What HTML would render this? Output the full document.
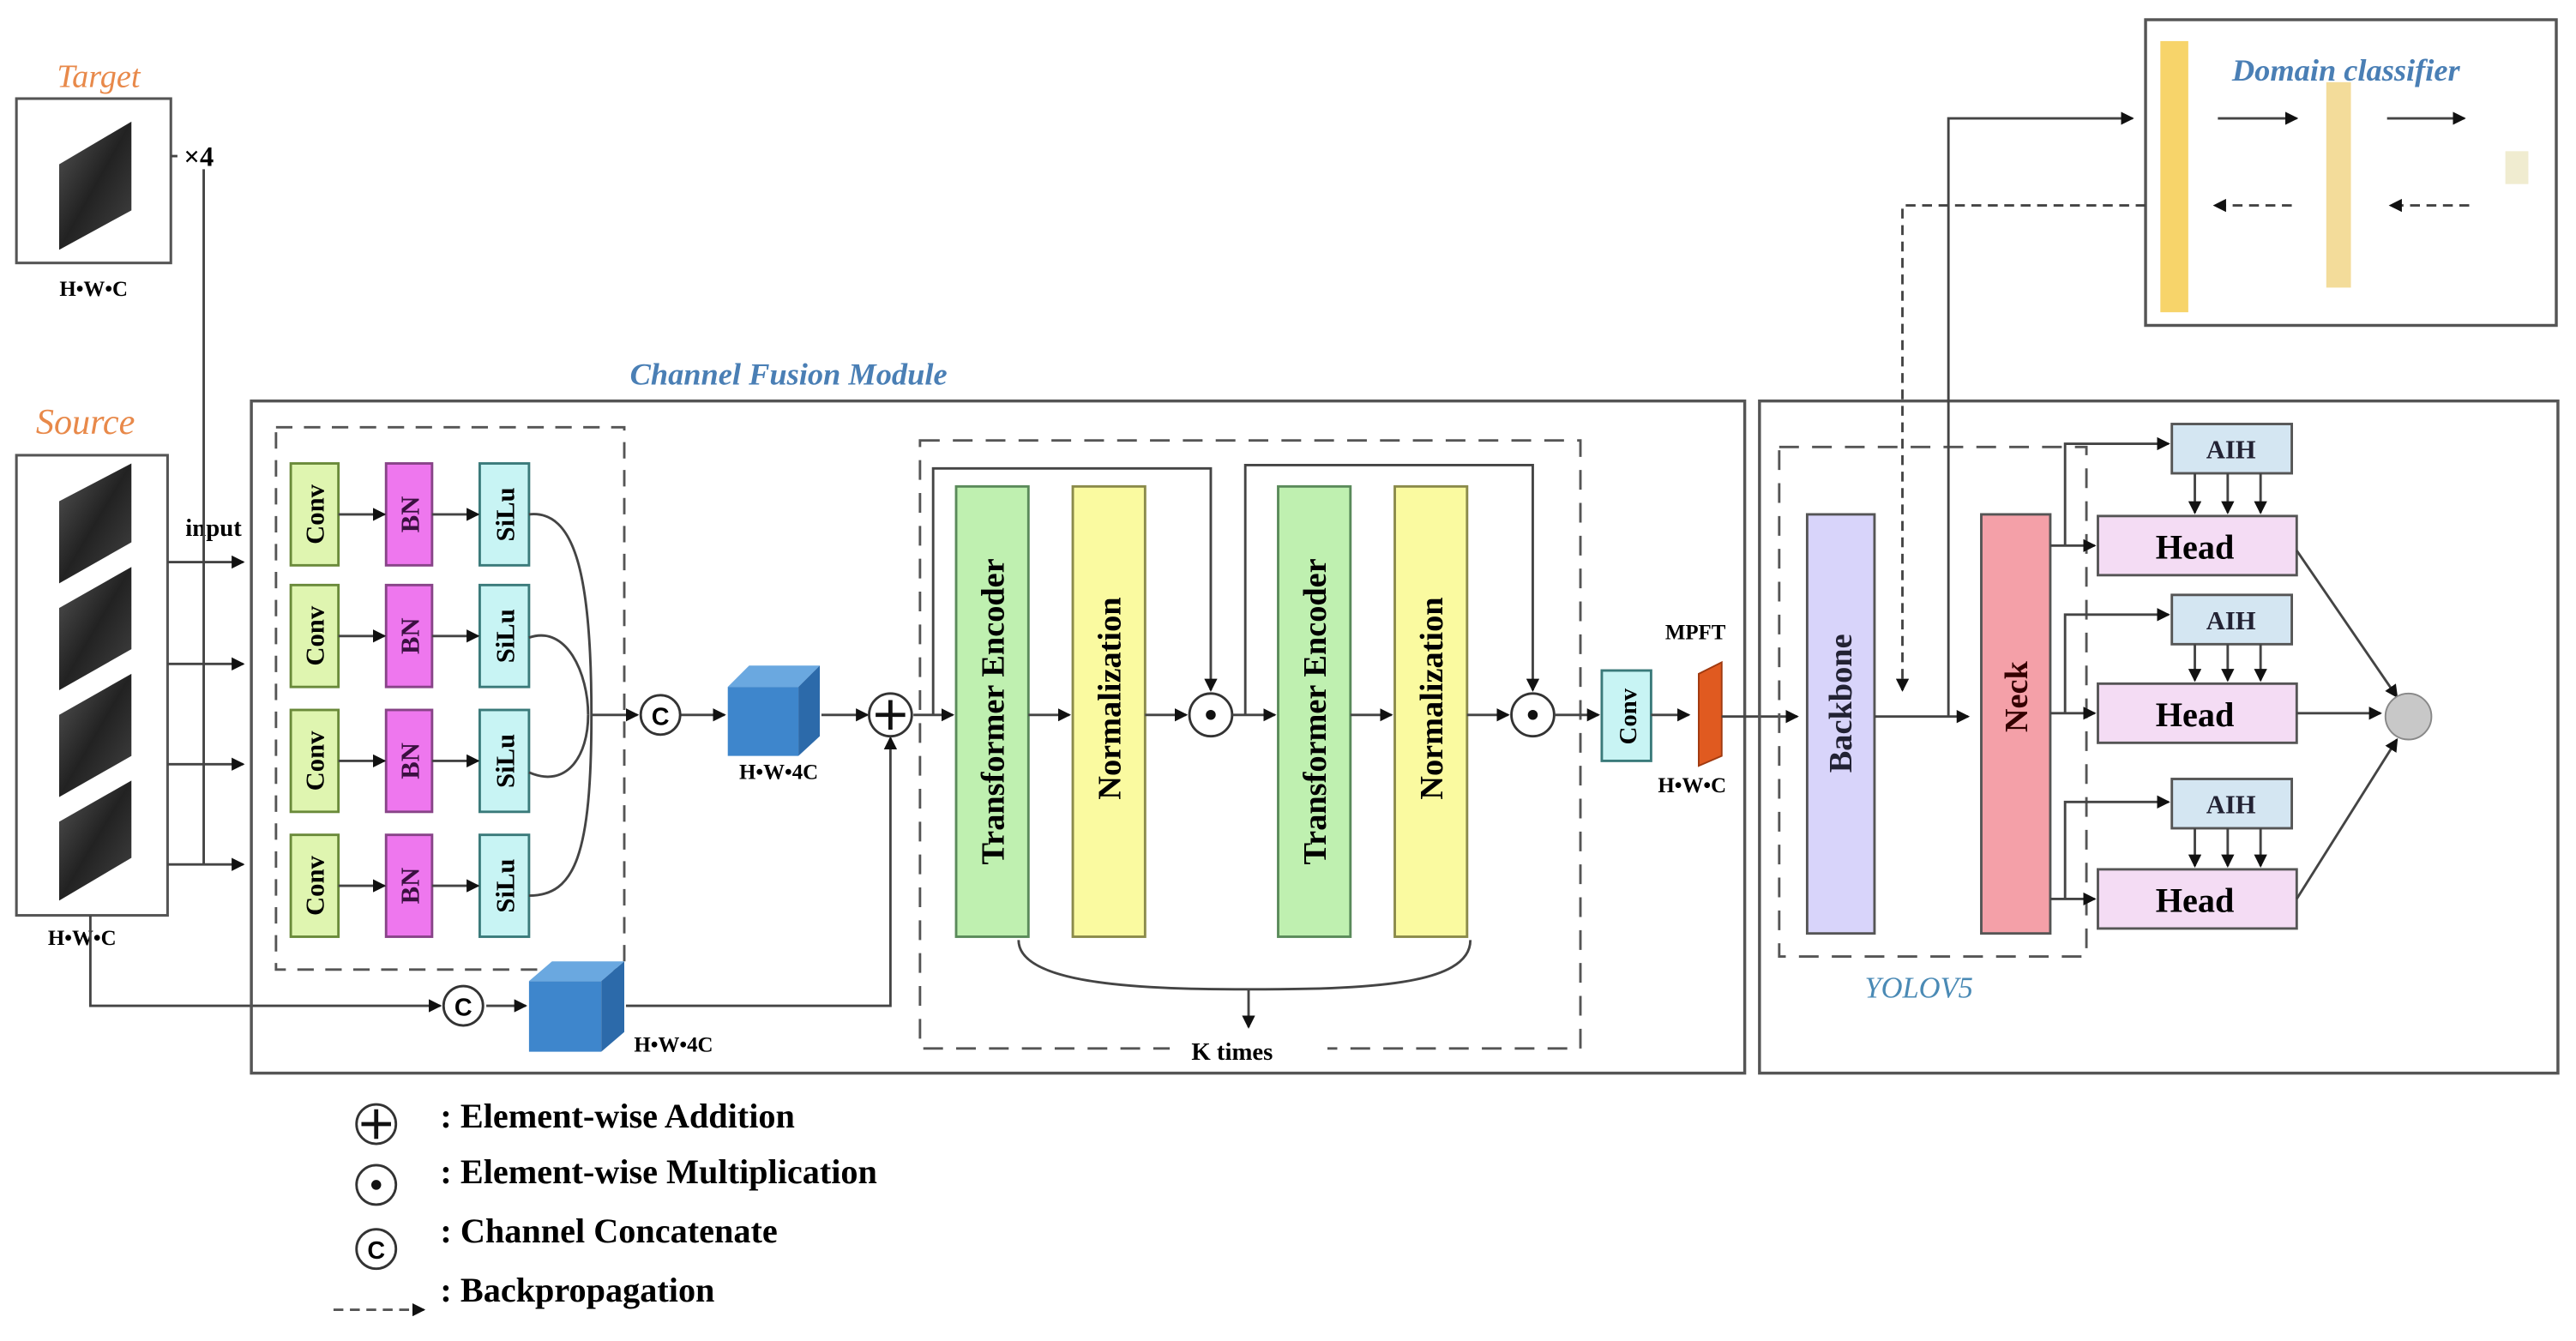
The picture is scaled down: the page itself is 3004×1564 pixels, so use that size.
<!DOCTYPE html>
<html><head><meta charset="utf-8"><style>html,body{margin:0;padding:0;background:#fff}svg{display:block}</style></head>
<body>
<svg width="3004" height="1564" viewBox="0 0 1568 816" preserveAspectRatio="none" xmlns="http://www.w3.org/2000/svg" font-family="Liberation Serif, serif">
<defs>
<marker id="a" markerWidth="8" markerHeight="8" refX="7" refY="4" orient="auto" markerUnits="userSpaceOnUse"><path d="M0,0 L8,4 L0,8z" fill="#111"/></marker>
<linearGradient id="img" x1="0" y1="0" x2="1" y2="1"><stop offset="0" stop-color="#555"/><stop offset="0.5" stop-color="#222"/><stop offset="1" stop-color="#444"/></linearGradient>
</defs>
<g stroke="#555" stroke-width="1.6" fill="none">
<rect x="10" y="60" width="94" height="100" fill="#fff"/>
<rect x="10" y="277" width="92" height="280" fill="#fff"/>
</g>
<polygon points="36,100 80,74 80,128 36,152" fill="url(#img)"/>
<polygon points="36,305 80,282 80,330 36,355" fill="url(#img)"/>
<polygon points="36,370 80,345 80,395 36,420" fill="url(#img)"/>
<polygon points="36,435 80,410 80,460 36,485" fill="url(#img)"/>
<polygon points="36,500 80,475 80,522 36,548" fill="url(#img)"/>
<text x="60" y="53" font-size="20" font-style="italic" fill="#e8894a" text-anchor="middle">Target</text>
<text x="52" y="264" font-size="22" font-style="italic" fill="#e8894a" text-anchor="middle">Source</text>
<text x="57" y="180" font-size="13" font-weight="bold" text-anchor="middle">H•W•C</text>
<text x="50" y="575" font-size="13" font-weight="bold" text-anchor="middle">H•W•C</text>
<rect x="108" y="84" width="28" height="18" fill="#fff"/>
<text x="121" y="101" font-size="17" font-weight="bold" text-anchor="middle">×4</text>
<text x="130" y="326" font-size="15" font-weight="bold" text-anchor="middle">input</text>
<g stroke="#444" stroke-width="1.5" fill="none">
<path d="M104,95 H108 M124,103 V526"/>
<path d="M102,342 H148" marker-end="url(#a)"/>
<path d="M102,404 H148" marker-end="url(#a)"/>
<path d="M102,465 H148" marker-end="url(#a)"/>
<path d="M102,526 H148" marker-end="url(#a)"/>
<path d="M55,557 V612 H268" marker-end="url(#a)"/>
</g>
<rect x="153" y="244" width="909" height="409" fill="none" stroke="#555" stroke-width="1.8"/>
<text x="480" y="234" font-size="19" font-style="italic" font-weight="bold" fill="#4a7fb5" text-anchor="middle">Channel Fusion Module</text>
<rect x="168" y="260" width="212" height="330" fill="none" stroke="#555" stroke-width="1.5" stroke-dasharray="10,7"/>
<g font-size="16" font-weight="bold" text-anchor="middle">
<g stroke-width="1.5">
<rect x="177" y="282" width="29" height="62" fill="#dff5b0" stroke="#6a8a3a"/>
<rect x="177" y="356" width="29" height="62" fill="#dff5b0" stroke="#6a8a3a"/>
<rect x="177" y="432" width="29" height="62" fill="#dff5b0" stroke="#6a8a3a"/>
<rect x="177" y="508" width="29" height="62" fill="#dff5b0" stroke="#6a8a3a"/>
<rect x="235" y="282" width="28" height="62" fill="#ee77ee" stroke="#884488"/>
<rect x="235" y="356" width="28" height="62" fill="#ee77ee" stroke="#884488"/>
<rect x="235" y="432" width="28" height="62" fill="#ee77ee" stroke="#884488"/>
<rect x="235" y="508" width="28" height="62" fill="#ee77ee" stroke="#884488"/>
<rect x="292" y="282" width="30" height="62" fill="#c8f4f4" stroke="#3a7a7a"/>
<rect x="292" y="356" width="30" height="62" fill="#c8f4f4" stroke="#3a7a7a"/>
<rect x="292" y="432" width="30" height="62" fill="#c8f4f4" stroke="#3a7a7a"/>
<rect x="292" y="508" width="30" height="62" fill="#c8f4f4" stroke="#3a7a7a"/>
</g>
<text transform="translate(197,313) rotate(-90)">Conv</text>
<text transform="translate(197,387) rotate(-90)">Conv</text>
<text transform="translate(197,463) rotate(-90)">Conv</text>
<text transform="translate(197,539) rotate(-90)">Conv</text>
<text transform="translate(255,313) rotate(-90)" fill="#3a1040">BN</text>
<text transform="translate(255,387) rotate(-90)" fill="#3a1040">BN</text>
<text transform="translate(255,463) rotate(-90)" fill="#3a1040">BN</text>
<text transform="translate(255,539) rotate(-90)" fill="#3a1040">BN</text>
<text transform="translate(313,313) rotate(-90)">SiLu</text>
<text transform="translate(313,387) rotate(-90)">SiLu</text>
<text transform="translate(313,463) rotate(-90)">SiLu</text>
<text transform="translate(313,539) rotate(-90)">SiLu</text>
</g>
<g stroke="#444" stroke-width="1.5" fill="none">
<path d="M206,313 H234" marker-end="url(#a)"/><path d="M263,313 H291" marker-end="url(#a)"/>
<path d="M206,387 H234" marker-end="url(#a)"/><path d="M263,387 H291" marker-end="url(#a)"/>
<path d="M206,463 H234" marker-end="url(#a)"/><path d="M263,463 H291" marker-end="url(#a)"/>
<path d="M206,539 H234" marker-end="url(#a)"/><path d="M263,539 H291" marker-end="url(#a)"/>
<path d="M322,313 C350,310 360,350 360,435 C360,520 350,545 322,545"/>
<path d="M322,388 C345,380 358,410 358,435"/>
<path d="M322,470 C345,480 358,460 358,435"/>
<path d="M360,435 H388" marker-end="url(#a)"/>
<path d="M414,435 H441" marker-end="url(#a)"/>
<path d="M500,435 H528" marker-end="url(#a)"/>
<path d="M296,612 H320" marker-end="url(#a)"/>
<path d="M381,612 H542 V449" marker-end="url(#a)"/>
<path d="M556,435 H580" marker-end="url(#a)"/>
</g>
<g stroke="#333" stroke-width="1.5" fill="#fff">
<circle cx="402" cy="435" r="12"/><circle cx="282" cy="612" r="12"/>
<circle cx="542" cy="435" r="13"/>
<circle cx="737" cy="435" r="13"/><circle cx="933" cy="435" r="13"/>
</g>
<g font-size="15" font-weight="bold" text-anchor="middle" font-family="Liberation Sans, sans-serif"><text x="402" y="441">C</text><text x="282" y="618">C</text></g>
<path d="M542,426 V444 M533,435 H551" stroke="#111" stroke-width="2.5"/>
<circle cx="737" cy="435" r="3" fill="#111"/><circle cx="933" cy="435" r="3" fill="#111"/>
<g>
<polygon points="443,418 486,418 486,460 443,460" fill="#3e86cc"/>
<polygon points="443,418 456,405 499,405 486,418" fill="#6aa8e0"/>
<polygon points="486,418 499,405 499,448 486,460" fill="#2c6aaa"/>
<polygon points="322,597 366,597 366,640 322,640" fill="#3e86cc"/>
<polygon points="322,597 336,585 380,585 366,597" fill="#6aa8e0"/>
<polygon points="366,597 380,585 380,628 366,640" fill="#2c6aaa"/>
</g>
<text x="474" y="474" font-size="13" font-weight="bold" text-anchor="middle">H•W•4C</text>
<text x="410" y="640" font-size="13" font-weight="bold" text-anchor="middle">H•W•4C</text>
<rect x="560" y="268" width="402" height="370" fill="none" stroke="#555" stroke-width="1.5" stroke-dasharray="12,8"/>
<g stroke-width="1.5">
<rect x="582" y="296" width="44" height="274" fill="#bff0b0" stroke="#5a8a5a"/>
<rect x="653" y="296" width="44" height="274" fill="#fafaa0" stroke="#8a8a4a"/>
<rect x="778" y="296" width="44" height="274" fill="#bff0b0" stroke="#5a8a5a"/>
<rect x="849" y="296" width="44" height="274" fill="#fafaa0" stroke="#8a8a4a"/>
</g>
<g font-size="20" font-weight="bold" text-anchor="middle">
<text transform="translate(611,433) rotate(-90)">Transformer Encoder</text>
<text transform="translate(682,425) rotate(-90)">Normalization</text>
<text transform="translate(807,433) rotate(-90)">Transformer Encoder</text>
<text transform="translate(878,425) rotate(-90)">Normalization</text>
</g>
<g stroke="#444" stroke-width="1.5" fill="none">
<path d="M626,435 H651" marker-end="url(#a)"/>
<path d="M697,435 H722" marker-end="url(#a)"/>
<path d="M750,435 H776" marker-end="url(#a)"/>
<path d="M822,435 H847" marker-end="url(#a)"/>
<path d="M893,435 H918" marker-end="url(#a)"/>
<path d="M946,435 H973" marker-end="url(#a)"/>
<path d="M568,435 V285 H737 V420" marker-end="url(#a)"/>
<path d="M758,435 V283 H933 V420" marker-end="url(#a)"/>
<path d="M620,572 C620,600 700,602 760,602 C830,602 895,600 895,572"/>
<path d="M760,602 V625" marker-end="url(#a)"/>
</g>
<rect x="712" y="632" width="96" height="14" fill="#fff"/>
<text x="750" y="645" font-size="15" font-weight="bold" text-anchor="middle">K times</text>
<rect x="975" y="408" width="30" height="55" fill="#c8f4f4" stroke="#3a7a7a" stroke-width="1.5"/>
<text transform="translate(996,436) rotate(-90)" font-size="15" font-weight="bold" text-anchor="middle">Conv</text>
<path d="M1005,435 H1028" stroke="#444" stroke-width="1.5" marker-end="url(#a)"/>
<path d="M1034,410 L1048,403 L1048,460 L1034,466 Z" fill="#e05a20" stroke="#a03a10"/>
<text x="1032" y="389" font-size="13" font-weight="bold" text-anchor="middle">MPFT</text>
<text x="1030" y="482" font-size="13" font-weight="bold" text-anchor="middle">H•W•C</text>
<path d="M1048,436 H1094" stroke="#444" stroke-width="1.5" marker-end="url(#a)"/>
<rect x="1071" y="244" width="486" height="409" fill="none" stroke="#555" stroke-width="1.8"/>
<rect x="1083" y="272" width="187" height="310" fill="none" stroke="#555" stroke-width="1.5" stroke-dasharray="12,8"/>
<text x="1168" y="607" font-size="18" font-style="italic" fill="#4a8ab5" text-anchor="middle">YOLOV5</text>
<rect x="1100" y="313" width="41" height="255" fill="#d8d4fa" stroke="#555" stroke-width="1.5"/>
<rect x="1206" y="313" width="42" height="255" fill="#f4a0a8" stroke="#555" stroke-width="1.5"/>
<text transform="translate(1127,428) rotate(-90)" font-size="20" font-weight="bold" text-anchor="middle" fill="#223">Backbone</text>
<text transform="translate(1234,424) rotate(-90)" font-size="20" font-weight="bold" text-anchor="middle" fill="#300">Neck</text>
<path d="M1141,436 H1198" stroke="#444" stroke-width="1.5" marker-end="url(#a)"/>
<g stroke="#555" stroke-width="1.5">
<rect x="1277" y="314" width="121" height="36" fill="#f4dcf4"/>
<rect x="1277" y="416" width="121" height="36" fill="#f4dcf4"/>
<rect x="1277" y="529" width="121" height="36" fill="#f4dcf4"/>
<rect x="1322" y="258" width="73" height="30" fill="#d4e6f2"/>
<rect x="1322" y="362" width="73" height="30" fill="#d4e6f2"/>
<rect x="1322" y="474" width="73" height="30" fill="#d4e6f2"/>
</g>
<g font-size="21" font-weight="bold" text-anchor="middle">
<text x="1336" y="340">Head</text><text x="1336" y="442">Head</text><text x="1336" y="555">Head</text>
</g>
<g font-size="16" font-weight="bold" text-anchor="middle" fill="#223">
<text x="1358" y="279">AIH</text><text x="1358" y="383">AIH</text><text x="1358" y="495">AIH</text>
</g>
<g stroke="#444" stroke-width="1.5" fill="none">
<path d="M1248,332 H1275" marker-end="url(#a)"/>
<path d="M1257,332 V270 H1320" marker-end="url(#a)"/>
<path d="M1248,434 H1275" marker-end="url(#a)"/>
<path d="M1257,434 V374 H1320" marker-end="url(#a)"/>
<path d="M1248,547 H1275" marker-end="url(#a)"/>
<path d="M1257,547 V488 H1320" marker-end="url(#a)"/>
<path d="M1336,288 V312" marker-end="url(#a)"/><path d="M1356,288 V312" marker-end="url(#a)"/><path d="M1376,288 V312" marker-end="url(#a)"/>
<path d="M1336,392 V414" marker-end="url(#a)"/><path d="M1356,392 V414" marker-end="url(#a)"/><path d="M1376,392 V414" marker-end="url(#a)"/>
<path d="M1336,504 V527" marker-end="url(#a)"/><path d="M1356,504 V527" marker-end="url(#a)"/><path d="M1376,504 V527" marker-end="url(#a)"/>
<path d="M1398,335 L1459,424" marker-end="url(#a)"/>
<path d="M1398,434 H1449" marker-end="url(#a)"/>
<path d="M1398,547 L1459,450" marker-end="url(#a)"/>
</g>
<circle cx="1466" cy="436" r="14" fill="#c8c8c8" stroke="#888"/>
<rect x="1306" y="12" width="250" height="186" fill="none" stroke="#555" stroke-width="1.8"/>
<rect x="1315" y="25" width="17" height="165" fill="#f7d46a"/>
<rect x="1416" y="50" width="15" height="125" fill="#f3dc9a"/>
<rect x="1525" y="92" width="14" height="20" fill="#f0ecd0"/>
<text x="1428" y="49" font-size="19" font-style="italic" font-weight="bold" fill="#4a7fb5" text-anchor="middle">Domain classifier</text>
<g stroke="#444" stroke-width="1.5" fill="none">
<path d="M1350,72 H1398" marker-end="url(#a)"/>
<path d="M1453,72 H1500" marker-end="url(#a)"/>
<path d="M1395,125 H1348" stroke-dasharray="6,4" marker-end="url(#a)"/>
<path d="M1503,125 H1455" stroke-dasharray="6,4" marker-end="url(#a)"/>
<path d="M1186,436 V72 H1298" marker-end="url(#a)"/>
<path d="M1306,125 H1158 V420" stroke-dasharray="6,4" marker-end="url(#a)"/>
</g>
<g stroke="#333" stroke-width="1.5" fill="#fff">
<circle cx="229" cy="684" r="12"/><circle cx="229" cy="721" r="12"/><circle cx="229" cy="760" r="12"/>
</g>
<path d="M229,675 V693 M220,684 H238" stroke="#111" stroke-width="2.5"/>
<circle cx="229" cy="721" r="3" fill="#111"/>
<text x="229" y="766" font-size="15" font-weight="bold" text-anchor="middle" font-family="Liberation Sans, sans-serif">C</text>
<path d="M203,797 H258" stroke="#555" stroke-width="1.5" stroke-dasharray="6,4" marker-end="url(#a)"/>
<g font-size="21" font-weight="bold">
<text x="268" y="686">: Element-wise Addition</text>
<text x="268" y="720">: Element-wise Multiplication</text>
<text x="268" y="756">: Channel Concatenate</text>
<text x="268" y="792">: Backpropagation</text>
</g>
</svg>
</body></html>
